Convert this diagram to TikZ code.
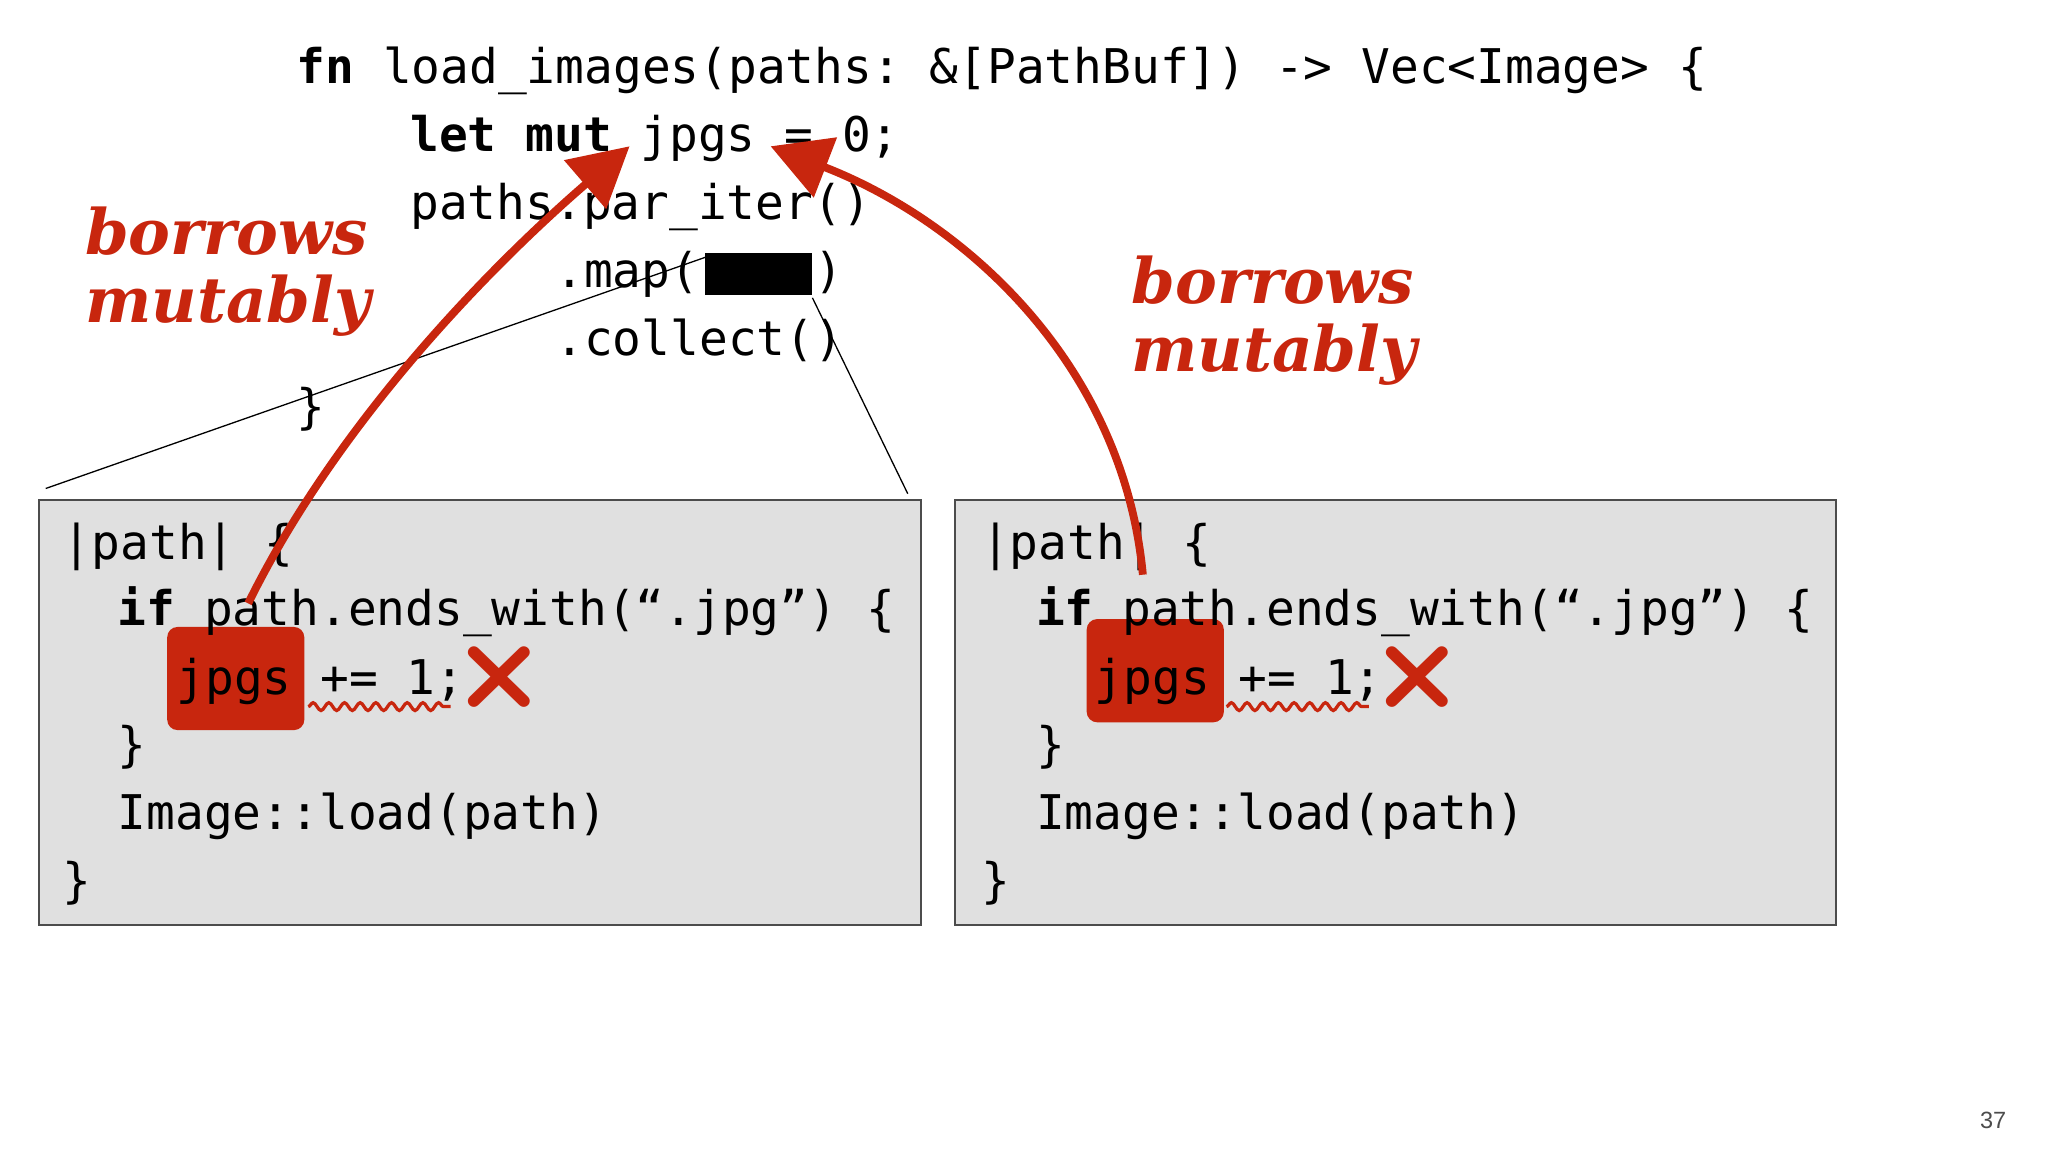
\documentclass[tikz,border=0pt]{standalone}
\usepackage{fontspec}
\setmonofont{DejaVu Sans Mono}
\setsansfont{Liberation Sans}
\newfontfamily\handfont{DejaVu Serif}
\newfontfamily\emojifont{Noto Emoji}
\usetikzlibrary{arrows.meta,decorations.pathmorphing}
\definecolor{redc}{HTML}{C8260E}
\begin{document}
\begin{tikzpicture}[x=1pt,y=-1pt,
  code/.style={anchor=base west,inner sep=0pt,font=\ttfamily\fontsize{36.6}{36.6}\selectfont},
  panel/.style={draw=black!70,line width=1.5pt,fill=black!12},
  hl/.style={fill=redc,rounded corners=8pt,draw=none},
  hand/.style={text=redc,align=left,font=\handfont\bfseries\itshape\fontsize{48}{52}\selectfont,inner sep=0pt},
  bigarrow/.style={draw=redc,line width=6pt,-{Triangle[length=45pt,width=48pt]}},
  cross/.style={text=redc,font=\emojifont\fontsize{48}{48}\selectfont,inner sep=0pt}]
\useasboundingbox (0,0) rectangle (1568,882);
\fill[white] (0,0) rectangle (1568,882);
% panels
\draw[panel] (30,383) rectangle (705,708);
\draw[panel] (731,383) rectangle (1406,708);
\fill[hl] (128,480) rectangle (233,559);
\fill[hl] (832,474) rectangle (937,553);
% top code
\node[code] (l1) at (227,64) {\textbf{fn} load\_images(paths: \&[PathBuf]) -> Vec<Image> \{};
\node[code] (l2) at (314,116) {\textbf{let mut} jpgs = 0;};
\node[code] (l3) at (314,168) {paths.par\_iter()};
\node[code] (l4) at (425,220) {.map(\phantom{xxxx})};
\fill (540,194) rectangle (622,226);
\coordinate (ma) at (540,197);
\coordinate (mb) at (622,228);
\node[code] (l5) at (425,272) {.collect()};
\node[code] (l6) at (227,324) {\}};
% closure lines
\coordinate (pa) at (35,374);
\coordinate (pb) at (695,378);
\draw[line width=1pt] (pa) -- (ma);
\draw[line width=1pt] (mb) -- (pb);
% panel code
\foreach \dx/\dy/\n in {0/0/a,703/0/b}{
  \node[code] (p1\n) at (48+\dx,428) {|path| \{};
  \node[code] (p2\n) at (90+\dx,479) {\textbf{if} path.ends\_with(“.jpg”) \{};
  \node[code] (p3\n) at (135+\dx,532) {jpgs += 1;};
  \node[code] (p4\n) at (90+\dx,583) {\}};
  \node[code] (p5\n) at (90+\dx,635) {Image::load(path)};
  \node[code] (p6\n) at (48+\dx,687) {\}};
  \node[cross] (x\n) at (382+\dx,518) {❌};
  \draw[redc,line width=2.5pt,decorate,decoration={snake,amplitude=3pt,segment length=12pt}] (236+\dx,541) -- (345+\dx,541);
}
% arrows
\coordinate (s1) at (190,462);
\coordinate (t1) at (482,112);
\coordinate (s2) at (875,440);
\coordinate (t2) at (590,112);
\draw[bigarrow] (s1) .. controls (260,320) and (380,200) .. (t1);
\draw[bigarrow] (s2) .. controls (860,280) and (740,170) .. (t2);
% handwritten labels
\node[hand,anchor=north west] (h1) at (65,158) {borrows\\mutably};
\node[hand,anchor=north west] (h2) at (866,196) {borrows\\mutably};
\node[font=\sffamily\fontsize{18}{18}\selectfont,text=black!70] (pg) at (1526,858) {37};
\end{tikzpicture}
\end{document}
